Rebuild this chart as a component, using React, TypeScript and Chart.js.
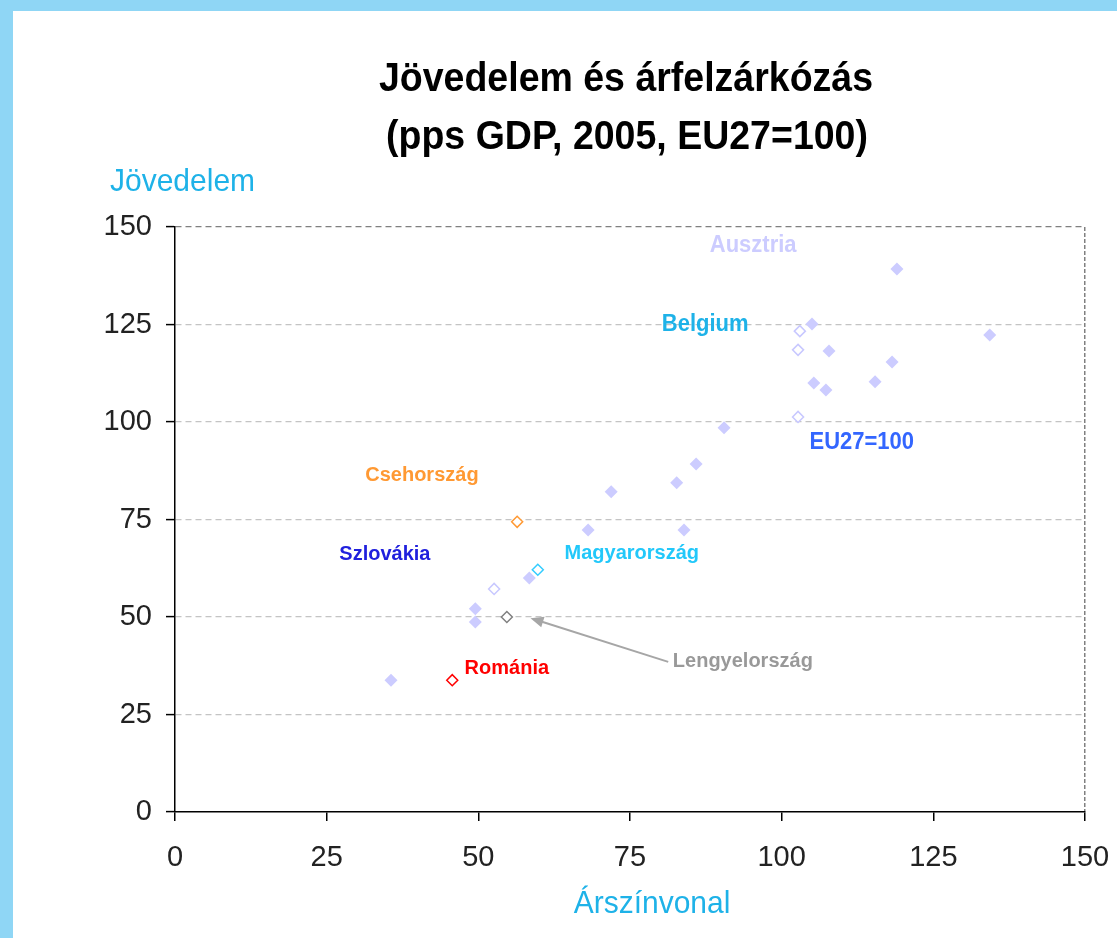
import { useEffect, useRef } from "react";
import { Chart, registerables } from "chart.js";

Chart.register(...registerables);

// ---------- data ----------
const titleLines = ["Jövedelem és árfelzárkózás", "(pps GDP, 2005, EU27=100)"];
const yAxisTitle = "Jövedelem";
const xAxisTitle = "Árszínvonal";
const axisMin = 0;
const axisMax = 150;
const axisStep = 25;

// other EU countries (filled diamonds): price level (x), income (y)
const otherPriceLevel = [119.0, 105.0, 107.8, 134.3, 118.2, 105.3, 107.3, 115.4, 90.5, 85.9, 82.7, 71.9, 68.1, 83.9, 58.4, 49.5, 49.5, 35.6];
const otherIncome = [139.2, 125.1, 118.2, 122.3, 115.4, 110.0, 108.2, 110.3, 98.5, 89.2, 84.4, 82.1, 72.3, 72.3, 60.0, 52.1, 48.7, 33.8];

// reference countries (hollow lavender diamonds)
const refNames = ["Ausztria", "Belgium", "EU27=100", "Szlovákia"];
const refPriceLevel = [103.0, 102.7, 102.7, 52.6];
const refIncome = [123.3, 118.5, 101.3, 57.2];

// highlighted countries (hollow coloured diamonds)
const hlNames = ["Csehország", "Magyarország", "Lengyelország", "Románia"];
const hlPriceLevel = [56.4, 59.8, 54.7, 45.7];
const hlIncome = [74.4, 62.1, 50.0, 33.8];
const hlColors = ["#ff9933", "#33ccff", "#808080", "#ff0000"];

// annotation labels (data coordinates of label centre)
const labelTexts = ["Ausztria", "Belgium", "EU27=100", "Csehország", "Szlovákia", "Magyarország", "Románia", "Lengyelország"];
const labelX = [95.3, 87.4, 113.2, 40.7, 34.6, 75.3, 54.7, 93.6];
const labelY = [145.3, 124.9, 94.6, 86.4, 66.2, 66.4, 36.9, 38.6];
const labelColors = ["#ccccff", "#1eb2e8", "#3366ff", "#ff9933", "#2020dd", "#22c8fa", "#ff0000", "#999999"];
const labelSizes = [22, 22, 22, 20, 20, 20, 20, 20];

// arrow (data coordinates)
const arrowFrom = [81.3, 38.5];
const arrowTo = [58.6, 49.7];

const FONT = '"Liberation Sans", Arial, Helvetica, sans-serif';

function drawText(
  ctx: CanvasRenderingContext2D,
  text: string,
  x: number,
  y: number,
  font: string,
  color: string,
  align: CanvasTextAlign,
  baseline: CanvasTextBaseline,
  sy: number
) {
  ctx.save();
  ctx.translate(x, y);
  ctx.scale(1, sy);
  ctx.font = font;
  ctx.fillStyle = color;
  ctx.textAlign = align;
  ctx.textBaseline = baseline;
  ctx.fillText(text, 0, 0);
  ctx.restore();
}

const overlayPlugin = {
  id: "overlay",
  afterDraw(chart: any) {
    const { ctx, chartArea, scales } = chart;
    const xs = scales.x;
    const ys = scales.y;
    const cx = (chartArea.left + chartArea.right) / 2;

    // title
    drawText(ctx, titleLines[0], cx - 4, chartArea.top - 136, `bold 37.5px ${FONT}`, "#000", "center", "alphabetic", 1.07);
    drawText(ctx, titleLines[1], cx - 3, chartArea.top - 78, `bold 37.5px ${FONT}`, "#000", "center", "alphabetic", 1.07);

    // axis titles
    drawText(ctx, yAxisTitle, chartArea.left - 65, chartArea.top - 36, `30px ${FONT}`, "#1eb2e8", "left", "alphabetic", 1.05);
    drawText(ctx, xAxisTitle, cx + 22, chartArea.bottom + 101, `30px ${FONT}`, "#1eb2e8", "center", "alphabetic", 1.05);

    // arrow
    const x1 = xs.getPixelForValue(arrowFrom[0]);
    const y1 = ys.getPixelForValue(arrowFrom[1]);
    const x2 = xs.getPixelForValue(arrowTo[0]);
    const y2 = ys.getPixelForValue(arrowTo[1]);
    const ang = Math.atan2(y2 - y1, x2 - x1);
    const head = 13;
    const hw = 5.5;
    ctx.save();
    ctx.strokeStyle = "#a6a6a6";
    ctx.fillStyle = "#a6a6a6";
    ctx.lineWidth = 2;
    ctx.beginPath();
    ctx.moveTo(x1, y1);
    ctx.lineTo(x2 - Math.cos(ang) * head * 0.8, y2 - Math.sin(ang) * head * 0.8);
    ctx.stroke();
    ctx.beginPath();
    ctx.moveTo(x2, y2);
    ctx.lineTo(x2 - Math.cos(ang) * head - Math.sin(ang) * hw, y2 - Math.sin(ang) * head + Math.cos(ang) * hw);
    ctx.lineTo(x2 - Math.cos(ang) * head + Math.sin(ang) * hw, y2 - Math.sin(ang) * head - Math.cos(ang) * hw);
    ctx.closePath();
    ctx.fill();
    ctx.restore();

    // labels
    for (let i = 0; i < labelTexts.length; i++) {
      const px = xs.getPixelForValue(labelX[i]);
      const py = ys.getPixelForValue(labelY[i]);
      drawText(ctx, labelTexts[i], px, py, `bold ${labelSizes[i]}px ${FONT}`, labelColors[i], "center", "middle", 1.05);
    }
  },
};

function toPoints(xv: number[], yv: number[]) {
  return xv.map((x, i) => ({ x, y: yv[i] }));
}

export default function App() {
  const ref = useRef<HTMLCanvasElement | null>(null);

  useEffect(() => {
    if (!ref.current) return;
    const gridColorY = (c: any) => {
      const v = c.tick ? c.tick.value : null;
      if (v === axisMax) return "#808080";
      if (v === axisMin) return "rgba(0,0,0,0)";
      return "#c4c4c4";
    };
    const gridColorX = (c: any) => {
      const v = c.tick ? c.tick.value : null;
      return v === axisMax ? "#808080" : "rgba(0,0,0,0)";
    };
    const chart = new Chart(ref.current, {
      type: "scatter",
      data: {
        datasets: [
          {
            label: "EU",
            data: toPoints(otherPriceLevel, otherIncome),
            pointStyle: "rectRot",
            pointRadius: 6.5,
            backgroundColor: "#ccccff",
            borderWidth: 0,
            borderColor: "#ccccff",
          },
          {
            label: refNames.join(", "),
            data: toPoints(refPriceLevel, refIncome),
            pointStyle: "rectRot",
            pointRadius: 5.5,
            backgroundColor: "#ffffff",
            borderColor: "#c8c8ff",
            borderWidth: 1.5,
          },
          ...hlNames.map((n, i) => ({
            label: n,
            data: [{ x: hlPriceLevel[i], y: hlIncome[i] }],
            pointStyle: "rectRot" as const,
            pointRadius: 5.5,
            backgroundColor: "#ffffff",
            borderColor: hlColors[i],
            borderWidth: 1.5,
          })),
        ],
      },
      options: {
        animation: false,
        responsive: false,
        events: [],
        layout: { padding: { top: 227, right: 32, left: 0, bottom: 0 } },
        plugins: {
          legend: { display: false },
          tooltip: { enabled: false },
          title: { display: false },
        },
        scales: {
          x: {
            type: "linear",
            min: axisMin,
            max: axisMax,
            afterFit: (s: any) => {
              s.height = 126;
              s.paddingLeft = 0;
              s.paddingRight = 0;
            },
            ticks: {
              stepSize: axisStep,
              color: "#222",
              font: { family: FONT, size: 29 },
              padding: 20,
              maxRotation: 0,
            },
            grid: {
              color: gridColorX,
              lineWidth: 1.5,
              tickColor: "#000",
              tickLength: 9,
              tickWidth: 1.5,
            },
            border: { display: true, color: "#000", width: 1.5, dash: [4, 2] },
          },
          y: {
            type: "linear",
            min: axisMin,
            max: axisMax,
            afterFit: (s: any) => {
              s.width = 175;
              s.paddingTop = 0;
              s.paddingBottom = 0;
            },
            ticks: {
              stepSize: axisStep,
              color: "#222",
              font: { family: FONT, size: 29 },
              padding: 14,
            },
            grid: {
              color: gridColorY,
              lineWidth: 1.2,
              tickColor: "#000",
              tickLength: 9,
              tickWidth: 1.5,
            },
            border: { display: true, color: "#000", width: 1.5, dash: [6, 4] },
          },
        },
      },
      plugins: [overlayPlugin],
    } as any);
    return () => chart.destroy();
  }, []);

  return (
    <div
      style={{
        position: "absolute",
        left: 0,
        top: 0,
        width: 1117,
        height: 938,
        background: "#8fd6f5",
        overflow: "hidden",
      }}
    >
      <div
        style={{
          position: "absolute",
          left: 13,
          top: 11,
          right: 0,
          bottom: 0,
          background: "#ffffff",
        }}
      />
      <canvas
        ref={ref}
        width={1117}
        height={938}
        style={{ position: "absolute", left: 0, top: 0, width: 1117, height: 938 }}
      />
    </div>
  );
}
